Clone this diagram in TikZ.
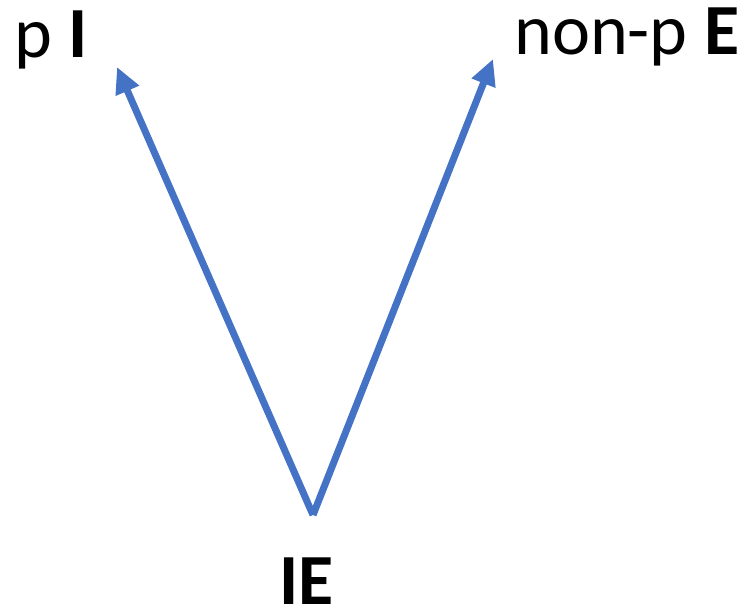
\documentclass[tikz,border=0pt]{standalone}
\usepackage{fontspec}
\setmainfont{Carlito}
\usetikzlibrary{arrows.meta}
\definecolor{vecblue}{HTML}{4472C4}
\tikzset{
  lab/.style={inner sep=0pt,anchor=base west,font=\fontsize{36}{40}\selectfont},
  vec/.style={vecblue,line width=3.5pt,-{Triangle[length=13pt,width=12pt]}}
}
\begin{document}
\begin{tikzpicture}[x=0.5pt,y=-0.5pt]
  \useasboundingbox (0,0) rectangle (754,610);
  % labels
  \node[lab] (pI) at (14,58) {p \textbf{I}};
  \node[lab] (nonpE) at (514,55) {non-p \textbf{E}};
  \node[lab] (IE) at (279,604) {\textbf{IE}};
  % vectors
  \coordinate (base) at (313,515);
  \coordinate (tipI) at (117,67);
  \coordinate (tipE) at (493,59);
  \draw[vec] (base) -- (tipI);
  \draw[vec] (base) -- (tipE);
\end{tikzpicture}
\end{document}
